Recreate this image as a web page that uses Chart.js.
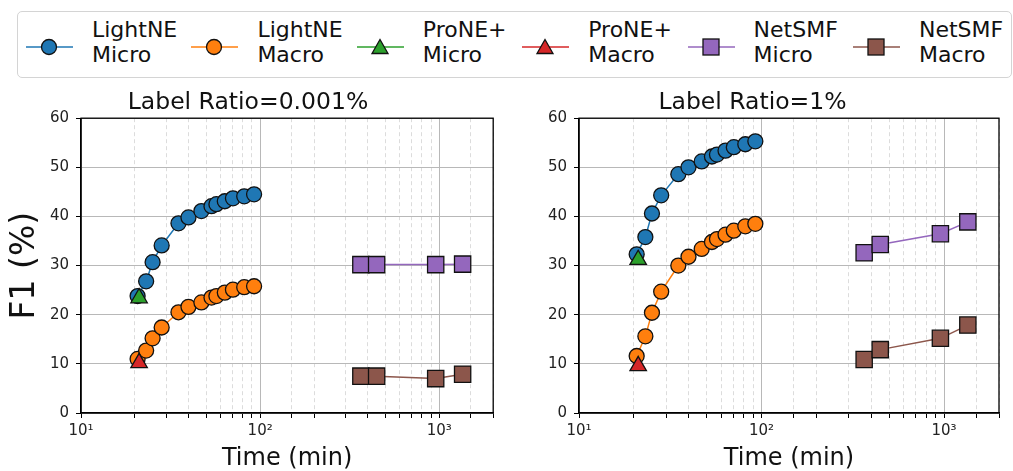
<!DOCTYPE html>
<html>
<head>
<meta charset="utf-8">
<script src="https://cdn.jsdelivr.net/npm/chart.js@4.4.1/dist/chart.umd.min.js"></script>
<style>
  html, body { margin: 0; padding: 0; background: #fff; }
  body { width: 1013px; height: 471px; position: relative; overflow: hidden; font-family: "DejaVu Sans", sans-serif; }
  .panel { position: absolute; top: 85px; }
  #legend { position: absolute; left: 17px; top: 11px; width: 995px; height: 67px; box-sizing: border-box;
            border: 1px solid #d4d4d4; border-radius: 5px; background: #fff; }
  .item { position: absolute; top: 0; height: 100%; }
  .item svg { position: absolute; left: 0; top: 23px; }
  .item span { position: absolute; left: 66px; top: 5px; font-size: 22px; line-height: 25px; white-space: nowrap; color: #111; }
</style>
</head>
<body>
<div id="legend"></div>
<canvas id="chartLow" class="panel" width="506" height="386" style="left:0"></canvas>
<canvas id="chartHigh" class="panel" width="507" height="386" style="left:506px"></canvas>

<script>
// ---- data (x = time in minutes, y = F1 in %) ----
const lightneTimes = [20.7, 23.1, 25.1, 28.2, 35.0, 39.8, 47.0, 53.5, 57.0, 63.5, 70.5, 81.5, 92.5];
const proneTimes = [21.1];
const netsmfTimes = [365, 447, 955, 1350];

// Label Ratio = 0.001%
const lightneMicroLow = [23.8, 26.8, 30.7, 34.1, 38.6, 39.8, 41.1, 42.1, 42.5, 43.1, 43.7, 44.1, 44.5];
const lightneMacroLow = [11.0, 12.7, 15.2, 17.4, 20.5, 21.6, 22.5, 23.5, 23.8, 24.5, 25.1, 25.6, 25.8];
const proneMicroLow = [23.4];
const proneMacroLow = [10.2];
const netsmfMicroLow = [30.2, 30.2, 30.2, 30.3];
const netsmfMacroLow = [7.5, 7.5, 7.0, 7.9];

// Label Ratio = 1%
const lightneMicroHigh = [32.3, 35.8, 40.6, 44.3, 48.6, 50.0, 51.2, 52.2, 52.6, 53.4, 54.1, 54.7, 55.3];
const lightneMacroHigh = [11.6, 15.6, 20.4, 24.7, 30.0, 31.8, 33.4, 34.8, 35.4, 36.3, 37.1, 38.0, 38.5];
const proneMicroHigh = [31.2];
const proneMacroHigh = [9.6];
const netsmfMicroHigh = [32.6, 34.3, 36.5, 38.9];
const netsmfMacroHigh = [10.9, 12.9, 15.2, 17.9];

const seriesNames = ['LightNE\nMicro', 'LightNE\nMacro', 'ProNE+\nMicro', 'ProNE+\nMacro', 'NetSMF\nMicro', 'NetSMF\nMacro'];
const seriesColors = ['#1f77b4', '#ff7f0e', '#2ca02c', '#d62728', '#9467bd', '#8c564b'];
const seriesMarkers = ['circle', 'circle', 'triangle', 'triangle', 'rect', 'rect'];
const markerRadius = { circle: 7.5, triangle: 9.5, rect: 11.5 };

const yTicks = [0, 10, 20, 30, 40, 50, 60];
const superscripts = { 1: '\u00b9', 2: '\u00b2', 3: '\u00b3' };

function isDecade(v) {
  const e = Math.log10(v);
  return Math.abs(e - Math.round(e)) < 1e-9;
}

function toPoints(times, values) {
  return values.map((v, i) => ({ x: times[i], y: v }));
}

// Build datasets; later series drawn on top (like matplotlib)
function buildDatasets(valueSets) {
  const timeSets = [lightneTimes, lightneTimes, proneTimes, proneTimes, netsmfTimes, netsmfTimes];
  return valueSets.map((vals, i) => ({
    label: seriesNames[i],
    data: toPoints(timeSets[i], vals),
    borderColor: seriesColors[i],
    backgroundColor: seriesColors[i],
    borderWidth: 1.5,
    pointStyle: seriesMarkers[i],
    pointRadius: markerRadius[seriesMarkers[i]],
    pointBackgroundColor: seriesColors[i],
    pointBorderColor: '#111',
    pointBorderWidth: 1.3,
    tension: 0,
    order: valueSets.length - i
  }));
}

// Full black frame around the plot area
const framePlugin = {
  id: 'frame',
  afterDatasetsDraw(chart) {
    const { ctx, chartArea: a } = chart;
    ctx.save();
    ctx.strokeStyle = '#000';
    ctx.lineWidth = 1.3;
    ctx.strokeRect(a.left, a.top, a.right - a.left, a.bottom - a.top);
    ctx.restore();
  }
};

function createPanel(canvasId, title, valueSets, opts) {
  const ctx = document.getElementById(canvasId).getContext('2d');
  return new Chart(ctx, {
    type: 'line',
    data: { datasets: buildDatasets(valueSets) },
    options: {
      responsive: false,
      animation: false,
      devicePixelRatio: 1,
      events: [],
      layout: { padding: { left: 0, right: opts.padRight, top: 0, bottom: 0 } },
      plugins: {
        legend: { display: false },
        tooltip: { enabled: false },
        title: {
          display: true,
          text: title,
          color: '#111',
          font: { family: 'DejaVu Sans', size: 23.5, weight: 'normal' },
          padding: { top: 4, bottom: 1 }
        }
      },
      scales: {
        x: {
          type: 'logarithmic',
          min: 10,
          max: 2000,
          afterFit: s => { s.height = 58; },
          ticks: {
            autoSkip: false,
            maxRotation: 0,
            padding: 4,
            color: '#222',
            font: { family: 'DejaVu Sans', size: 15 },
            callback: v => isDecade(v) ? '10' + superscripts[Math.round(Math.log10(v))] : ''
          },
          grid: {
            color: c => (c.tick && isDecade(c.tick.value)) ? '#b8b8b8' : '#dcdcdc',
            lineWidth: 1,
            tickColor: '#000',
            tickLength: 5
          },
          border: {
            display: true,
            color: '#000',
            width: 1.3,
            dash: c => (c.tick && !isDecade(c.tick.value)) ? [4, 3] : []
          },
          title: {
            display: true,
            text: 'Time (min)',
            color: '#111',
            font: { family: 'DejaVu Sans', size: 24, lineHeight: 1.0 },
            padding: { top: 0, bottom: 0 }
          }
        },
        y: {
          min: 0,
          max: 60,
          afterFit: s => { s.width = opts.yWidth; },
          afterBuildTicks: s => { s.ticks = yTicks.map(v => ({ value: v })); },
          ticks: {
            padding: 7,
            color: '#222',
            font: { family: 'DejaVu Sans', size: 15 }
          },
          grid: {
            color: '#b8b8b8',
            lineWidth: 1,
            tickColor: '#000',
            tickLength: 5
          },
          border: { display: true, color: '#000', width: 1.3 },
          title: {
            display: opts.yTitle,
            text: 'F1 (%)',
            color: '#111',
            font: { family: 'DejaVu Sans', size: 33 },
            padding: { top: 6, bottom: 0 }
          }
        }
      }
    },
    plugins: [framePlugin]
  });
}

createPanel('chartLow', 'Label Ratio=0.001%',
  [lightneMicroLow, lightneMacroLow, proneMicroLow, proneMacroLow, netsmfMicroLow, netsmfMacroLow],
  { yWidth: 81, padRight: 10, yTitle: true });

createPanel('chartHigh', 'Label Ratio=1%',
  [lightneMicroHigh, lightneMacroHigh, proneMicroHigh, proneMacroHigh, netsmfMicroHigh, netsmfMacroHigh],
  { yWidth: 73, padRight: 14, yTitle: false });

// ---- legend (HTML, markers as small SVG) ----
function markerSvg(shape, color) {
  let m;
  if (shape === 'circle') {
    m = `<circle cx="23" cy="12" r="7.5" fill="${color}" stroke="#111" stroke-width="1.3"/>`;
  } else if (shape === 'triangle') {
    m = `<polygon points="23,4.5 31,18.5 15,18.5" fill="${color}" stroke="#111" stroke-width="1.3"/>`;
  } else {
    m = `<rect x="15" y="4" width="16" height="16" fill="${color}" stroke="#111" stroke-width="1.3"/>`;
  }
  return `<svg width="48" height="24"><line x1="0" y1="12" x2="47" y2="12" stroke="${color}" stroke-width="1.5"/>${m}</svg>`;
}

const legend = document.getElementById('legend');
seriesNames.forEach((name, i) => {
  const item = document.createElement('div');
  item.className = 'item';
  item.style.left = (8 + i * 165.4) + 'px';
  item.innerHTML = markerSvg(seriesMarkers[i], seriesColors[i]) +
    '<span>' + name.split('\n').join('<br>') + '</span>';
  legend.appendChild(item);
});
</script>
</body>
</html>
